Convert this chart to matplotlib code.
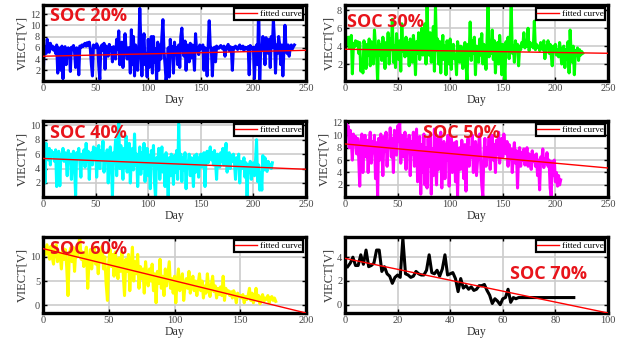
import numpy as np
import matplotlib
matplotlib.use('Agg')
import matplotlib.pyplot as plt

# 每个SOC段的电压数据（按天）
v_soc20 = [0.2, 5.5, 6.2, 5.0, 7.5, 6.0, 5.2, 6.8, 5.8, 6.3,
           5.6, 6.1, 5.0, 6.5, 1.5, 6.0, 5.2, 2.0, 6.3, 0.5,
           5.8, 6.2, 3.0, 5.5, 6.0, 5.7, 1.8, 6.1, 5.9, 6.4,
           5.2, 2.5, 6.0, 5.8, 1.2, 6.3, 6.0, 6.5, 6.2, 6.6,
           6.8, 6.3, 6.9, 6.4, 7.0, 5.8, 3.0, 1.0, 6.5, 6.2,
           6.0, 6.7, 6.3, 2.8, 0.4, 6.1, 6.5, 5.5, 6.8, 2.2,
           6.3, 5.9, 4.5, 6.6, 5.8, 6.0, 3.5, 6.2, 6.0, 4.0,
           7.5, 5.8, 9.0, 3.0, 5.0, 7.0, 2.5, 6.0, 8.5, 5.5,
           4.0, 6.0, 6.0, 1.5, 9.2, 3.0, 8.0, 1.0, 6.5, 4.0,
           2.0, 5.5, 13.0, 7.0, 1.0, 6.0, 8.5, 3.0, 5.0, 0.8,
           7.5, 2.5, 6.0, 8.0, 1.5, 8.0, 3.5, 5.8, 0.2, 7.0,
           2.0, 6.5, 4.0, 8.0, 11.0, 5.5, 3.0, 0.1, 2.0, 6.0,
           0.8, 7.5, 4.5, 6.2, 1.5, 7.0, 5.0, 6.0, 3.0, 6.5,
           2.5, 8.0, 9.5, 6.0, 4.5, 7.2, 2.0, 6.5, 5.5, 3.5,
           6.8, 4.2, 6.5, 5.0, 2.0, 8.5, 5.5, 6.0, 4.8, 6.5,
           5.8, 6.2, 6.5, 2.0, 6.0, 5.5, 1.0, 6.4, 10.8, 6.2,
           6.0, 1.0, 5.8, 6.1, 3.5, 6.3, 6.0, 5.9, 6.2, 6.4,
           6.0, 5.8, 6.3, 4.5, 6.1, 6.0, 6.6, 5.5, 6.2, 6.0,
           2.0, 6.1, 5.9, 6.3, 6.0, 5.7, 6.2, 6.5, 5.8, 6.0,
           6.3, 5.5, 6.1, 6.0, 5.8, 6.2, 1.2, 6.4, 6.0, 5.8,
           6.1, 0.5, 6.0, 6.5, 3.0, 13.8, 0.2, 6.0, 5.5, 8.0,
           6.5, 3.0, 7.8, 6.5, 5.0, 7.5, 2.5, 8.0, 6.0, 11.0,
           7.5, 1.5, 6.5, 5.0, 8.0, 6.5, 3.0, 6.5, 1.0, 5.5,
           10.0, 6.0, 5.0, 6.5, 4.5, 6.0, 6.5, 5.8, 6.2, 6.5]

v_soc30 = [3.5, 4.8, 4.2, 5.0, 3.8, 4.5, 5.2, 0.9, 4.3, 3.9,
           4.6, 4.1, 4.5, 3.2, 4.4, 1.2, 2.5, 1.0, 4.6, 3.8,
           1.5, 4.2, 3.0, 4.8, 1.8, 4.5, 3.5, 2.0, 5.8, 4.0,
           3.2, 0.1, 4.6, 3.0, 4.2, 2.4, 5.0, 3.8, 1.5, 4.4,
           3.0, 5.5, 2.0, 4.8, 3.6, 7.0, 2.2, 4.0, 1.6, 5.4,
           3.8, 2.5, 4.6, 1.2, 6.5, 3.4, 4.2, 2.8, 5.0, 3.0,
           4.4, 1.8, 4.8, 3.5, 2.2, 5.2, 3.8, 0.8, 4.5, 3.2,
           5.5, 2.5, 4.2, 6.0, 3.0, 4.8, 6.5, 2.0, 8.5, 4.4,
           3.0, 5.5, 2.2, 4.0, 6.2, 1.2, 8.6, 3.5, 4.8, 2.0,
           4.5, 1.0, 3.8, 5.2, 2.5, 4.0, 0.8, 4.6, 3.2, 2.0,
           4.8, 1.4, 3.5, 4.2, 2.6, 3.0, 0.8, 4.5, 3.6, 2.2,
           4.0, 2.8, 1.5, 3.8, 4.4, 2.0, 0.1, 4.2, 3.0, 6.7,
           2.4, 4.6, 3.2, 5.0, 0.8, 4.0, 3.5, 2.2, 4.8, 3.0,
           5.4, 2.0, 4.2, 3.6, 1.4, 4.5, 8.6, 2.8, 4.0, 3.2,
           5.8, 2.5, 4.6, 1.0, 3.8, 4.4, 2.0, 5.2, 3.5, 0.8,
           4.2, 3.0, 0.1, 4.5, 3.8, 5.0, 2.6, 4.4, 8.6, 3.2,
           4.0, 2.2, 4.6, 3.5, 4.2, 1.8, 4.0, 3.6, 4.4, 4.0,
           5.5, 3.8, 4.2, 4.0, 6.0, 3.5, 4.4, 4.1, 4.0, 3.8,
           6.8, 3.6, 4.2, 3.9, 4.0, 3.5, 4.4, 3.8, 3.6, 4.6,
           2.6, 4.0, 3.8, 4.6, 3.2, 4.2, 3.0, 1.8, 4.0, 3.5,
           4.2, 3.0, 3.6, 2.8, 4.4, 3.2, 2.0, 3.8, 4.0, 1.6,
           3.6, 2.5, 4.5, 1.0, 5.8, 3.0, 2.2, 4.0, 0.8, 3.5,
           3.0, 3.8, 2.4, 3.6, 3.0, 3.4, 3.2]

v_soc40 = [5.5, 7.2, 2.0, 7.5, 6.0, 5.2, 6.8, 4.5, 6.5, 5.8,
           6.2, 5.0, 6.6, 1.5, 5.8, 6.4, 1.6, 6.0, 5.5, 6.8,
           5.0, 6.2, 5.6, 3.0, 6.5, 5.4, 6.0, 2.5, 5.8, 6.4,
           4.0, 0.3, 6.2, 5.5, 6.8, 5.0, 2.8, 6.0, 5.2, 6.6,
           4.2, 7.5, 5.0, 6.4, 2.5, 5.8, 6.2, 4.5, 7.0, 5.5,
           6.8, 2.8, 6.0, 7.2, 4.0, 6.5, 5.2, 7.8, 3.5, 6.0,
           5.0, 6.6, 2.0, 5.8, 7.0, 4.5, 0.2, 6.2, 5.5, 8.0,
           3.0, 6.5, 10.6, 4.0, 7.2, 5.0, 2.5, 6.8, 4.2, 8.5,
           3.5, 6.0, 7.5, 2.0, 5.5, 6.8, 3.8, 8.8, 4.5, 6.0,
           1.5, 5.2, 7.0, 3.2, 6.2, 4.0, 7.5, 2.2, 5.5, 6.8,
           3.0, 5.8, 1.2, 6.5, 4.5, 7.2, 2.0, 0.0, 5.5, 4.0,
           6.8, 2.5, 5.0, 7.0, 3.5, 5.8, 1.5, 6.2, 4.2, 0.1,
           5.5, 3.0, 6.0, 4.5, 1.8, 5.8, 3.5, 6.5, 2.5, 10.2,
           4.0, 6.0, 2.2, 5.5, 3.8, 6.2, 1.2, 5.0, 4.5, 6.0,
           3.0, 5.5, 4.2, 1.5, 5.8, 3.5, 6.0, 4.8, 2.8, 5.5,
           6.0, 4.2, 5.8, 6.2, 1.5, 5.5, 6.4, 4.8, 6.0, 7.0,
           5.2, 6.2, 4.5, 6.5, 5.0, 2.5, 6.0, 5.5, 4.2, 6.2,
           5.0, 6.8, 4.5, 5.8, 7.5, 3.5, 5.5, 6.2, 4.0, 5.8,
           5.0, 6.0, 4.8, 2.5, 5.5, 4.2, 6.0, 2.0, 5.0, 4.5,
           4.0, 5.5, 2.8, 4.8, 0.1, 4.5, 3.5, 5.0, 2.5, 4.2,
           4.8, 3.0, 5.0, 8.0, 2.2, 4.5, 1.0, 3.5, 1.0, 5.8,
           3.8, 5.5, 4.0, 3.6, 5.0, 4.2, 4.6, 4.0, 4.8]

v_soc50 = [9.5, 12.0, 10.5, 11.5, 8.0, 10.8, 9.0, 6.0, 10.2, 8.5,
           9.8, 7.0, 9.5, 6.5, 1.8, 9.0, 10.2, 4.0, 8.8, 10.0,
           6.5, 9.2, 4.0, 8.5, 10.5, 5.5, 9.0, 7.2, 10.0, 3.0,
           8.8, 0.0, 9.5, 6.0, 10.2, 8.0, 3.5, 9.8, 7.5, 10.5,
           5.0, 9.0, 8.0, 11.2, 6.5, 9.5, 4.0, 10.8, 8.2, 6.8,
           11.5, 9.0, 12.3, 5.5, 10.0, 8.5, 6.5, 10.5, 4.5, 9.2,
           7.5, 10.0, 3.5, 9.0, 7.0, 10.5, 5.0, 8.5, 11.0, 2.5,
           7.5, 9.8, 0.5, 8.5, 4.0, 10.2, 2.0, 8.0, 1.5, 9.5,
           5.0, 10.0, 0.5, 7.8, 3.5, 11.0, 6.0, 2.0, 9.5, 4.5,
           8.2, 10.5, 1.5, 7.0, 9.0, 3.0, 8.5, 6.0, 10.0, 1.8,
           7.5, 9.5, 4.0, 6.5, 8.8, 2.5, 9.0, 0.2, 6.8, 8.0,
           4.5, 9.2, 7.0, 3.0, 8.5, 1.0, 7.5, 9.5, 5.0, 8.0,
           6.5, 10.0, 4.0, 7.8, 9.0, 3.5, 6.0, 8.5, 10.2, 5.5,
           2.0, 0.2, 7.0, 9.5, 5.0, 8.0, 6.5, 9.8, 4.5, 7.5,
           10.0, 6.0, 8.5, 4.0, 9.2, 7.0, 10.5, 5.5, 8.8, 9.5,
           6.5, 10.2, 8.0, 7.0, 9.0, 5.0, 8.5, 6.2, 7.8, 4.0,
           7.0, 8.8, 5.5, 7.5, 1.5, 6.8, 8.0, 5.0, 7.2, 6.0,
           7.8, 5.2, 6.5, 8.0, 5.0, 7.0, 6.2, 4.5, 7.5, 5.8,
           6.8, 5.0, 7.0, 3.5, 6.0, 1.2, 6.5, 5.5, 7.8, 4.8,
           6.2, 5.5, 7.2, 5.0, 6.0, 1.5, 0.2, 5.8, 3.5, 6.0,
           2.5, 4.0, 1.8, 3.5, 2.0, 2.8]

v_soc60 = [11.5, 12.0, 10.5, 12.5, 11.0, 9.5, 12.2, 10.0, 8.5, 11.8,
           12.5, 9.0, 11.0, 10.5, 7.5, 12.0, 9.5, 11.5, 8.0, 2.0,
           10.5, 11.8, 9.0, 12.0, 7.0, 11.5, 10.0, 12.5, 14.0, 9.5,
           11.0, 8.0, 10.5, 12.0, 3.5, 9.0, 11.5, 7.5, 10.0, 12.0,
           8.5, 10.8, 6.5, 11.0, 9.0, 12.2, 7.5, 10.0, 4.5, 1.0,
           9.0, 11.5, 8.0, 10.5, 6.0, 11.0, 8.5, 5.5, 9.8, 7.0,
           11.0, 6.5, 2.0, 9.5, 7.0, 10.5, 3.0, 8.0, 12.0, 5.0,
           9.0, 6.5, 10.5, 3.5, 8.0, 5.5, 7.5, 2.5, 9.0, 6.0,
           4.0, 7.5, 5.0, 8.5, 3.0, 6.5, 0.5, 7.0, 4.5, 9.5,
           3.5, 6.0, 2.0, 7.5, 4.0, 6.5, 9.0, 3.5, 5.5, 2.5,
           6.0, 0.5, 5.0, 7.5, 3.0, 4.5, 6.5, 1.0, 4.0, 5.5,
           3.5, 7.0, 2.5, 4.5, 6.0, 3.0, 5.0, 2.0, 4.5, 6.5,
           3.0, 5.0, 1.5, 4.0, 2.5, 6.5, 3.5, 1.8, 4.2, 6.0,
           2.8, 4.0, 1.5, 3.5, 2.2, 3.8, 2.0, 6.0, 1.0, 3.5,
           2.5, 3.0, 2.0, 2.8, 1.5, 3.0, 2.2, 0.5, 2.5, 1.8,
           2.0, 1.5, 2.2, 0.5, 1.8, 1.2, 2.0, 3.5, 1.0, 2.5,
           0.5, 1.5, 3.5, 1.0, 2.0, 0.3, 1.5, 2.2, 0.8, 1.5,
           1.2, 2.0, 0.5, 1.5, 1.8, 1.0, 1.5, 0.8]

v_soc70 = [3.2, 3.5, 4.0, 3.3, 3.3, 4.2, 3.4, 4.6, 3.2, 3.3,
           3.5, 4.6, 4.6, 2.8, 3.2, 2.6, 2.4, 1.8, 2.3, 2.5,
           2.3, 5.6, 2.6, 2.5, 2.3, 2.4, 2.8, 2.6, 2.5, 2.5,
           2.9, 4.2, 2.7, 2.6, 2.9, 2.4, 3.0, 4.2, 2.5, 2.6,
           2.7, 2.2, 1.1, 2.2, 1.4, 1.6, 1.3, 1.5, 1.2, 1.3,
           1.6, 1.6, 1.7, 1.2, 0.8, 0.1, 0.5, 0.3, 0.0, 0.5,
           0.6, 1.3, 0.2, 0.6, 0.5, 0.6, 0.6, 0.6, 0.6, 0.6,
           0.6, 0.6, 0.6, 0.6, 0.6, 0.6, 0.6, 0.6, 0.6, 0.6,
           0.6, 0.6, 0.6, 0.6, 0.6, 0.6, 0.6]

series = [v_soc20, v_soc30, v_soc40, v_soc50, v_soc60, v_soc70]
start_day = [0, 0, 0, 0, 0, 1]
colors = ['#0000ff', '#00ff00', '#00ffff', '#ff00ff', '#ffff00', '#000000']
labels = ['SOC 20%', 'SOC 30%', 'SOC 40%', 'SOC 50%', 'SOC 60%', 'SOC 70%']

# 拟合直线 [斜率, 截距]
fit_coef = [[0.0042, 4.5], [-0.0018, 3.65], [-0.0060, 5.4],
            [-0.0155, 8.6], [-0.0665, 11.7], [-0.046, 3.9]]

xmax = [250, 250, 250, 250, 200, 100]
xticks = [[0, 50, 100, 150, 200, 250]] * 4 + [[0, 50, 100, 150, 200], [0, 20, 40, 60, 80, 100]]
ylims = [(0.1, 13.6), (0.1, 8.6), (0.05, 10.6), (0.05, 12.3), (-1.6, 14.1), (-0.7, 5.7)]
yticks = [[2, 4, 6, 8, 10, 12], [2, 4, 6, 8], [2, 4, 6, 8, 10],
          [2, 4, 6, 8, 10, 12], [0, 5, 10], [0, 2, 4]]

# 标签位置（像素）
label_pos = [(50, 16), (347, 22), (50, 133), (423, 133), (50, 249), (510, 274)]

W, H = 624, 349
fig = plt.figure(figsize=(W / 100, H / 100), dpi=100)

ax_rect = [(43, 5), (345, 5), (43, 121), (345, 121), (43, 237), (345, 237)]
aw, ah = 263, 76

serif = 'Liberation Serif'

for i in range(6):
    x0, y0 = ax_rect[i]
    ax = fig.add_axes([x0 / W, 1 - (y0 + ah) / H, aw / W, ah / H])
    y = series[i]
    x = np.arange(len(y)) + start_day[i]
    ax.plot(x, y, color=colors[i], lw=2.2, zorder=2)
    xf = np.array([0, xmax[i]])
    ax.plot(xf, np.polyval(fit_coef[i], xf), color='#ff0000', lw=1.0,
            label='fitted curve', zorder=3)
    ax.set_xlim(0, xmax[i])
    ax.set_ylim(*ylims[i])
    ax.set_xticks(xticks[i])
    ax.set_yticks(yticks[i])
    ax.grid(True, color='#cccccc', lw=1.2)
    ax.set_axisbelow(True)
    for s in ax.spines.values():
        s.set_linewidth(2.4)
        s.set_color('black')
    ax.tick_params(direction='in', top=True, right=True, length=3, width=1,
                   labelsize=7.5, labelcolor='#444444', pad=2)
    for t in ax.get_xticklabels() + ax.get_yticklabels():
        t.set_family(serif)
    ax.set_xlabel('Day', fontsize=8.5, family=serif, color='#333333', labelpad=1)
    ax.set_ylabel('VIECT[V]', fontsize=9, family=serif, color='#333333', labelpad=1)
    leg = ax.legend(loc='upper right', frameon=True, fancybox=False,
                    handlelength=2.4, borderpad=0.2, borderaxespad=0.3,
                    handletextpad=0.3, prop={'family': serif, 'size': 6.5})
    leg.get_frame().set_edgecolor('black')
    leg.get_frame().set_linewidth(1.6)
    leg.get_frame().set_alpha(1)

    lx, ly = label_pos[i]
    fig.text(lx / W, 1 - ly / H, labels[i], color='#e8141b', fontsize=13,
             fontweight='bold', family='Open Sans', va='center', ha='left')

fig.savefig('out.png', dpi=100)
